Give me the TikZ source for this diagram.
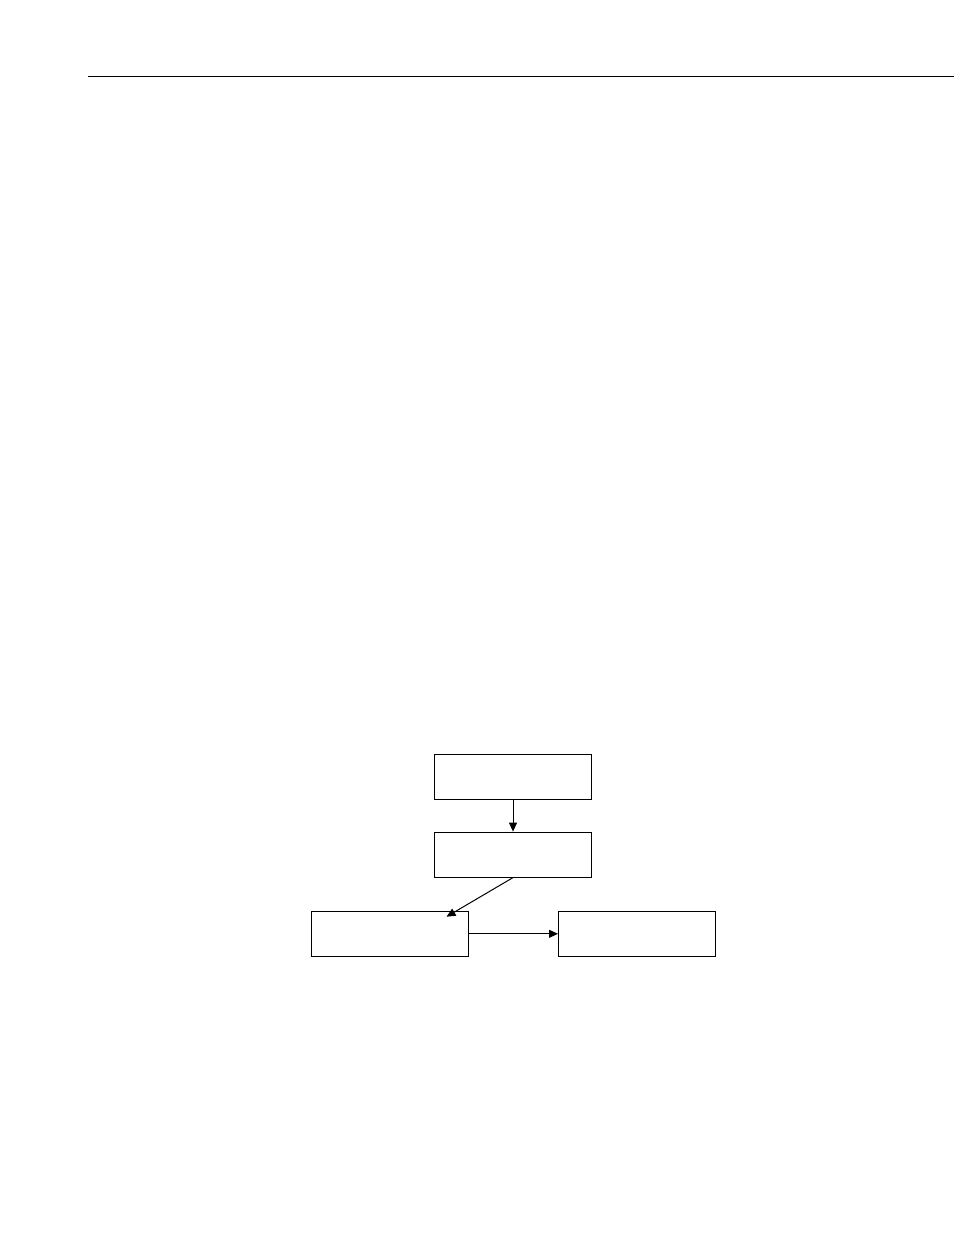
\documentclass[tikz,border=0pt]{standalone}
\usepackage{tikz}
\usetikzlibrary{arrows.meta}
\tikzstyle{stage} = [rectangle, draw, fill=white, line width=1pt, minimum width=157pt, minimum height=45pt, inner sep=0pt]

\begin{document}
\begin{tikzpicture}[->,>={Triangle[length=9pt,width=8pt]},x=1pt,y=-1pt,line width=1pt]
  \useasboundingbox (0,0) rectangle (954,1235);
  \coordinate (rule_l) at (88,76.3);
  \coordinate (rule_r) at (954,76.3);
  \draw[-] (rule_l) -- (rule_r);

  \node[stage] (S_eins) at (513,777) {};
  \node[stage] (S_zwei) at (513,854.6) {};
  \node[stage] (S_links) at (390,933.8) {};
  \node[stage] (S_rechts) at (637,933.8) {};
  \coordinate (hit) at (446.5,916.7);

  \path (S_eins) edge (S_zwei);
  \draw (S_zwei.south) -- (hit);
  \path (S_links) edge (S_rechts);
\end{tikzpicture}
\end{document}
